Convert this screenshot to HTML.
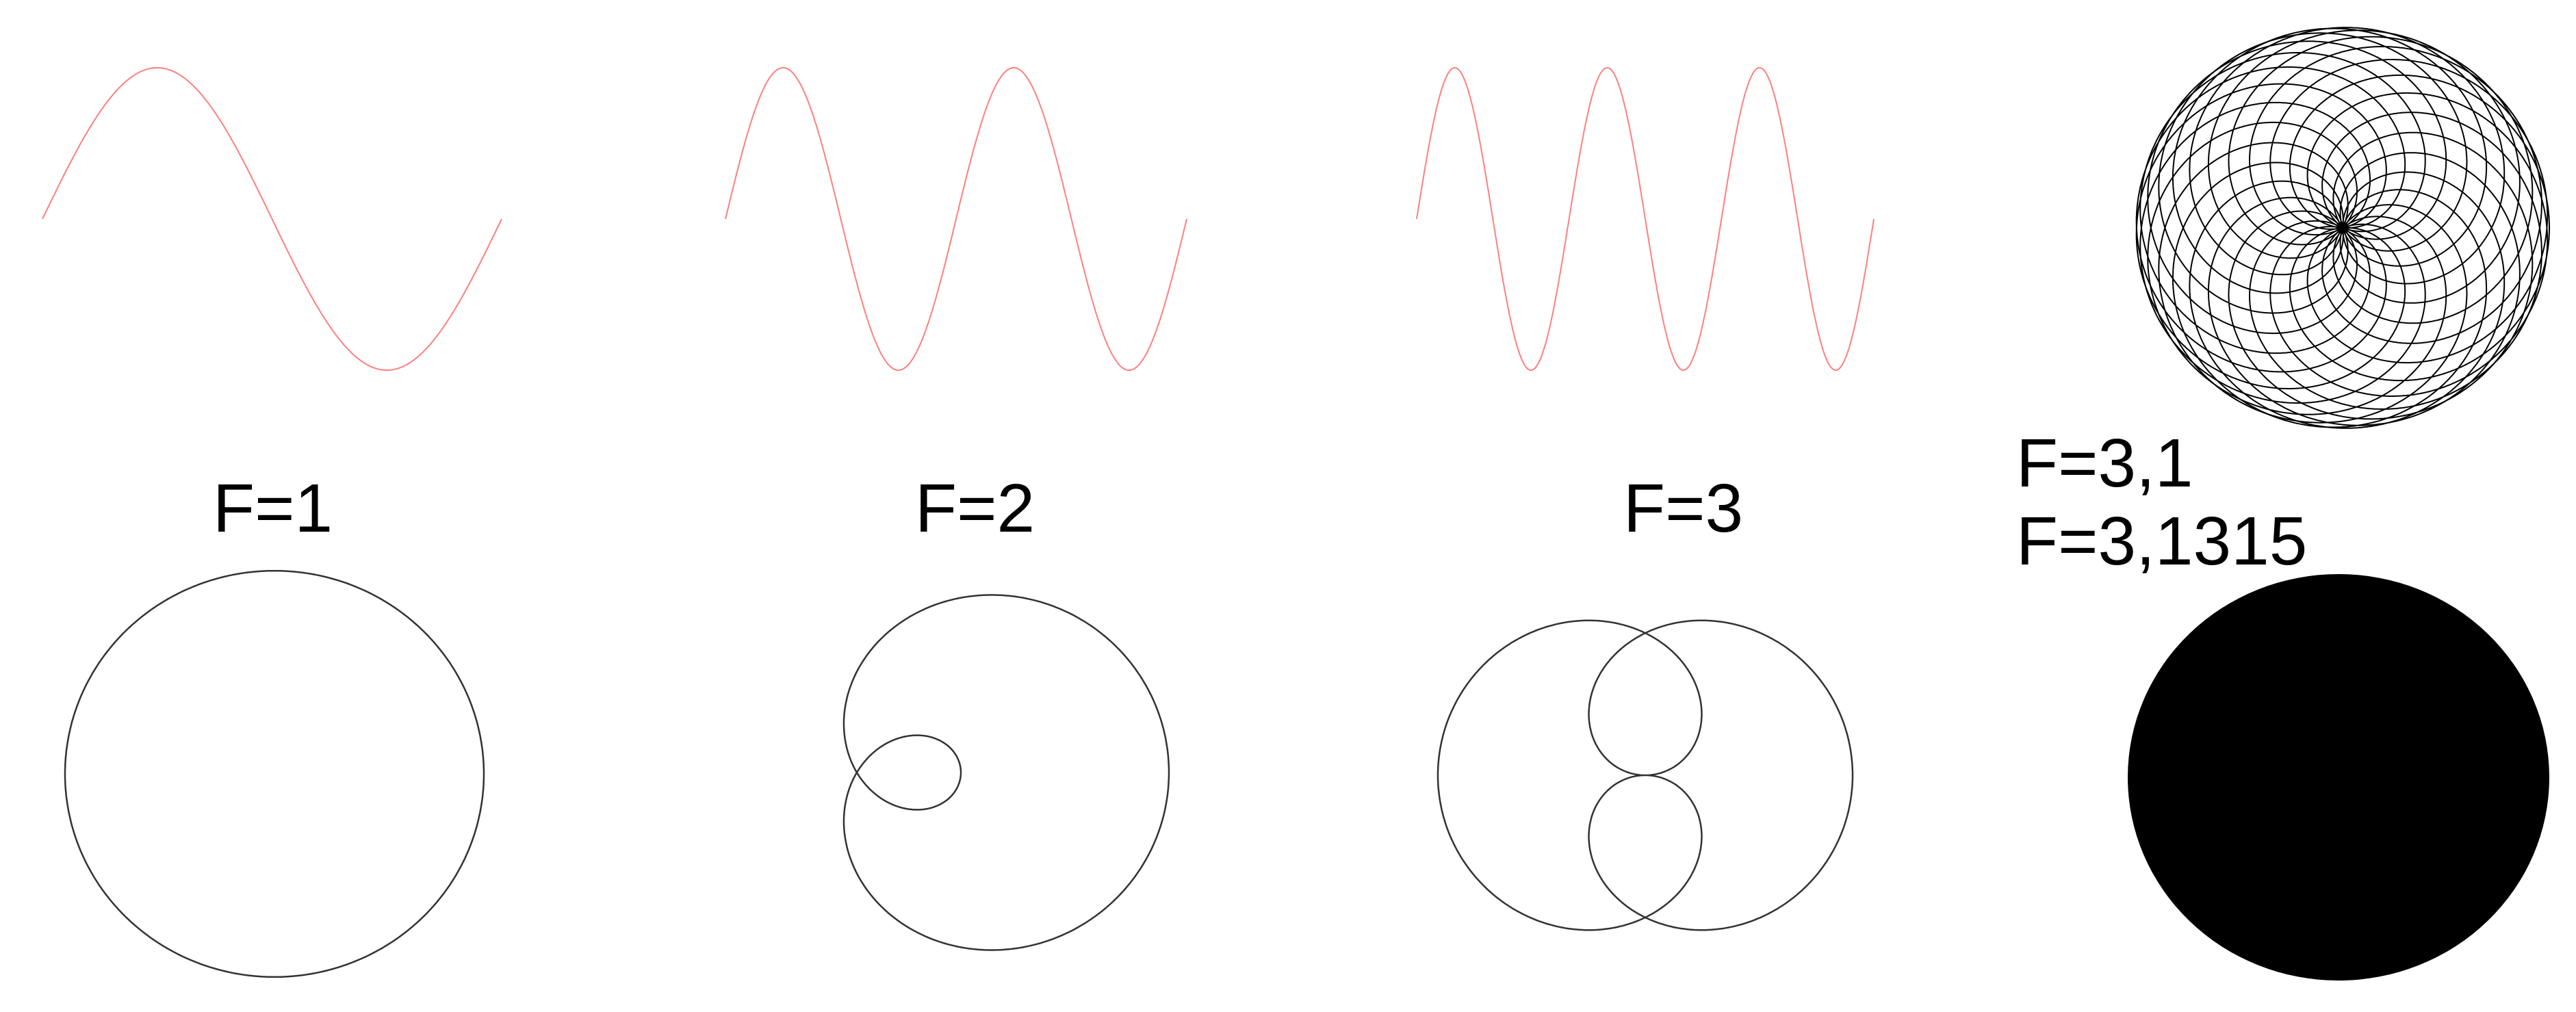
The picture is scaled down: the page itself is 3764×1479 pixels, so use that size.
<!DOCTYPE html>
<html><head><meta charset="utf-8"><style>
html,body{margin:0;padding:0;background:#fff;}
svg{display:block;}
text{font-family:"Liberation Sans",Arial,sans-serif;font-size:100px;fill:#000;}
</style></head><body>
<svg id="s" width="3764" height="1479" viewBox="0 0 3764 1479" xmlns="http://www.w3.org/2000/svg">
<path id="s1" fill="none" stroke="#ff7f7f" stroke-width="2"/>
<path id="s2" fill="none" stroke="#ff7f7f" stroke-width="2"/>
<path id="s3" fill="none" stroke="#ff7f7f" stroke-width="2"/>
<path id="c1" fill="none" stroke="#333" stroke-width="2.5"/>
<path id="c2" fill="none" stroke="#333" stroke-width="2.5"/>
<path id="c3" fill="none" stroke="#333" stroke-width="2.5"/>
<path id="c4" fill="none" stroke="#000" stroke-width="2"/>
<ellipse cx="3417" cy="1136" rx="308" ry="297" fill="#000"/>
<text x="311" y="777">F=1</text>
<text x="1337" y="777">F=2</text>
<text x="2372" y="777">F=3</text>
<text x="2946" y="711">F=3,1</text>
<text x="2946" y="825">F=3,1315</text>
</svg>
<script>
function sine(id,x0,x1,n){var d="",N=600;for(var i=0;i<=N;i++){var t=i/N;var x=x0+(x1-x0)*t;var y=320-221*Math.sin(2*Math.PI*n*t);d+=(i?"L":"M")+x.toFixed(1)+","+y.toFixed(1);}document.getElementById(id).setAttribute("d",d);}
sine("s1",62,733,1);sine("s2",1060,1734,2);sine("s3",2070,2738,3);
function curve(id,cx,cy,R,F,T,N){var d="";for(var i=0;i<=N;i++){var t=T*i/N;var x=cx+R*(Math.cos(t)+Math.cos(F*t));var y=cy-0.97*R*(Math.sin(t)+Math.sin(F*t));d+=(i?"L":"M")+x.toFixed(1)+","+y.toFixed(1);}document.getElementById(id).setAttribute("d",d);}
curve("c1",401,1131,153,1,2*Math.PI,400);
curve("c2",1404,1129,152,2,2*Math.PI,600);
curve("c3",2404,1133,151.5,3,2*Math.PI,800);
curve("c4",3423,333,151,3.1,20*Math.PI,12000);
</script>
</body></html>
